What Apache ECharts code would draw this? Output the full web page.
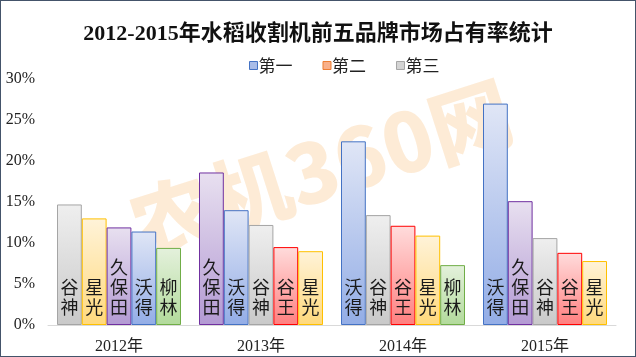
<!DOCTYPE html>
<html>
<head>
<meta charset="utf-8">
<script src="https://cdn.jsdelivr.net/npm/echarts@6/dist/echarts.min.js"></script>
<style>
html,body{margin:0;padding:0;background:#fff;}
#c{width:636px;height:357px;box-sizing:border-box;border:1px solid #44546a;}
</style>
</head>
<body>
<div id="c"></div>
<script>
const categories = ['2012年', '2013年', '2014年', '2015年'];
const brands2012 = ['谷神', '星光', '久保田', '沃得', '柳林'];
const brands2013 = ['久保田', '沃得', '谷神', '谷王', '星光'];
const brands2014 = ['沃得', '谷神', '谷王', '星光', '柳林'];
const brands2015 = ['沃得', '久保田', '谷神', '谷王', '星光'];
const values2012 = [14.7, 13.0, 11.9, 11.4, 9.4];
const values2013 = [18.6, 14.0, 12.2, 9.5, 9.0];
const values2014 = [22.4, 13.4, 12.1, 10.9, 7.3];
const values2015 = [27.0, 15.1, 10.6, 8.8, 7.8];
const yTicks = [0, 5, 10, 15, 20, 25, 30];
const legendNames = ['第一', '第二', '第三'];
const rankNames = ['第一', '第二', '第三', '第四', '第五'];

const brandsByYear = [brands2012, brands2013, brands2014, brands2015];
const valuesByYear = [values2012, values2013, values2014, values2015];

function grad(top, bottom) {
  return new echarts.graphic.LinearGradient(0, 0, 0, 1, [
    {offset: 0, color: top}, {offset: 1, color: bottom}
  ]);
}
const brandStyle = {
  '谷神': {color: grad('#efefef', '#c9c9c9'), borderColor: '#a5a5a5', borderWidth: 1},
  '星光': {color: grad('#fff3d9', '#ffd97c'), borderColor: '#ffc000', borderWidth: 1},
  '久保田': {color: grad('#e8e0f0', '#b39ad3'), borderColor: '#7030a0', borderWidth: 1},
  '沃得': {color: grad('#e0e6f6', '#93ade6'), borderColor: '#4472c4', borderWidth: 1},
  '柳林': {color: grad('#e4f1dc', '#b2da9b'), borderColor: '#70ad47', borderWidth: 1},
  '谷王': {color: grad('#ffdcdc', '#ff7f7f'), borderColor: '#ff0000', borderWidth: 1}
};
const legendStyle = [
  {color: '#a9bce8', borderColor: '#4472c4', borderWidth: 1},
  {color: '#f8b08a', borderColor: '#ed7d31', borderWidth: 1},
  {color: '#d4d4d4', borderColor: '#a5a5a5', borderWidth: 1}
];

const series = rankNames.map((rn, i) => ({
  name: rn,
  type: 'bar',
  barWidth: 24.8,
  barGap: '0%',
  itemStyle: i < 3 ? legendStyle[i] : {color: '#ccc'},
  label: {
    show: true,
    position: 'insideBottom',
    distance: 8,
    fontSize: 18,
    lineHeight: 20,
    color: '#1a1a1a',
    fontFamily: '"Noto Sans CJK SC"',
    formatter: p => p.name.split('').join('\n')
  },
  data: categories.map((c, k) => ({
    value: valuesByYear[k][i],
    name: brandsByYear[k][i],
    itemStyle: brandStyle[brandsByYear[k][i]]
  }))
}));

const chart = echarts.init(document.getElementById('c'), null, {renderer: 'canvas'});
chart.setOption({
  animation: false,
  backgroundColor: '#fff',
  title: {
    text: '2012-2015年水稻收割机前五品牌市场占有率统计',
    left: 'center',
    top: 17,
    textStyle: {fontSize: 22, fontWeight: 'bold', color: '#111', fontFamily: '"Liberation Serif", "Noto Sans CJK SC"'}
  },
  legend: {
    data: legendNames.map((n, i) => ({name: n, itemStyle: legendStyle[i]})),
    left: 243,
    top: 51,
    icon: 'rect',
    itemWidth: 8,
    itemHeight: 8,
    itemGap: 30,
    textStyle: {fontSize: 17, color: '#222', fontFamily: '"Noto Sans CJK SC"', padding: [0, 0, 0, -4]}
  },
  graphic: [{
    type: 'text',
    z: 0,
    x: 320,
    y: 168,
    rotation: 0.31,
    style: {
      text: '农机360网',
      fontSize: 82,
      fontWeight: 900,
      fontFamily: '"Noto Sans CJK SC"',
      fill: 'rgba(248,172,84,0.24)',
      align: 'center',
      verticalAlign: 'middle'
    }
  }],
  grid: {left: 47, right: 19, top: 78, bottom: 31},
  xAxis: {
    type: 'category',
    data: categories,
    axisLine: {lineStyle: {color: '#d9d9d9', width: 1}},
    axisTick: {show: false},
    axisLabel: {fontSize: 16, color: '#222', margin: 14, fontFamily: '"Liberation Serif", "Noto Sans CJK SC"'}
  },
  yAxis: {
    type: 'value',
    min: yTicks[0],
    max: yTicks[yTicks.length - 1],
    interval: yTicks[1] - yTicks[0],
    splitLine: {show: false},
    axisLine: {show: false},
    axisTick: {show: false},
    axisLabel: {fontSize: 16, color: '#222', margin: 13, formatter: '{value}%', fontFamily: '"Liberation Serif"'}
  },
  series: series
});
</script>
</body>
</html>
